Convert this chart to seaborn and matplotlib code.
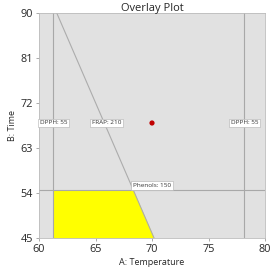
import matplotlib
matplotlib.use("Agg")
import matplotlib.pyplot as plt
import seaborn as sns
import numpy as np
import pandas as pd

# data
x_ticks = [60, 65, 70, 75, 80]
y_ticks = [45, 54, 63, 72, 81, 90]
dpph_x = [61.27, 78.17]
phenols_y = 54.7
frap_x = [61.57, 70.18]
frap_y = [90, 45]
point_x = [70.0]
point_y = [68.0]
labels = ["DPPH: 55", "FRAP: 210", "DPPH: 55", "Phenols: 150"]
label_x = [61.27, 66.0, 78.17, 70.0]
label_y = [68.0, 68.0, 68.0, 55.5]

sns.set_style("white")
plt.rcParams['font.family'] = ['Open Sans', 'DejaVu Sans']

fig = plt.figure(figsize=(2.72, 2.75), dpi=100)
ax = fig.add_axes([39/272, 1-238/275, 226/272, 225/275])
ax.set_facecolor("#e1e1e1")

# feasible region (yellow)
def frap_at(y):
    return frap_x[0] + (frap_x[1]-frap_x[0])*(frap_y[0]-y)/(frap_y[0]-frap_y[1])
ys = np.array([45, phenols_y])
ax.fill_betweenx(ys, dpph_x[0], [frap_at(v) for v in ys], color="#ffff00", lw=0, zorder=1)

for xv in dpph_x:
    ax.axvline(xv, color="#a8a8a8", lw=0.8, zorder=2)
ax.axhline(phenols_y, color="#a8a8a8", lw=0.8, zorder=2)

frap_df = pd.DataFrame({"x": frap_x, "y": frap_y})
sns.lineplot(data=frap_df, x="x", y="y", color="#acacac", lw=0.8, ax=ax, zorder=2)

pt_df = pd.DataFrame({"x": point_x, "y": point_y})
sns.scatterplot(data=pt_df, x="x", y="y", color="#c00000", s=14, edgecolor="none", ax=ax, zorder=4)

for t, xv, yv in zip(labels, label_x, label_y):
    ax.text(xv, yv, t, fontsize=4.6, ha="center", va="center", color="#333333", zorder=5,
            bbox=dict(boxstyle="square,pad=0.3", fc="white", ec="#b0b0b0", lw=0.4))

ax.set_xlim(60, 80)
ax.set_ylim(45, 90)
ax.set_xticks(x_ticks)
ax.set_yticks(y_ticks)
ax.tick_params(axis="both", labelsize=7.8, length=2.5, width=0.5, color="#888888", pad=2, direction="out",
               bottom=True, left=True)
for s in ax.spines.values():
    s.set_color("#bbbbbb")
    s.set_linewidth(0.6)
ax.set_xlabel("A: Temperature", fontsize=6.5, labelpad=2)
ax.set_ylabel("B: Time", fontsize=6.5, labelpad=2)
ax.set_title("Overlay Plot", fontsize=8, pad=1.5)

fig.savefig("out.png", dpi=100)
